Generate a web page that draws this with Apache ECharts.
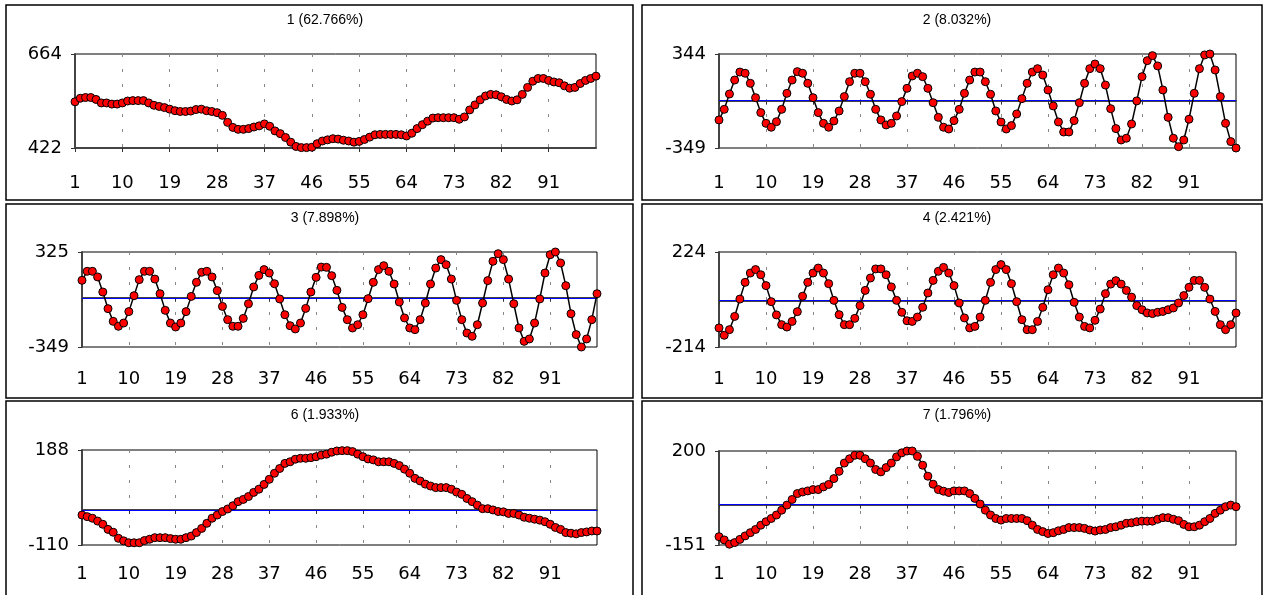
<!DOCTYPE html>
<html><head><meta charset="utf-8">
<script src="https://cdn.jsdelivr.net/npm/echarts@6/dist/echarts.min.js"></script>
<style>html,body{margin:0;padding:0;background:#fff}#c{width:1264px;height:595px}</style>
</head><body><div id="c"></div>
<script>
// x categories: observation index 1..100
const categories = Array.from({length: 100}, (_, i) => String(i + 1));
const titles = ['1 (62.766%)', '2 (8.032%)', '3 (7.898%)', '4 (2.421%)', '6 (1.933%)', '7 (1.796%)'];
const yMin = [422, -349, -349, -214, -110, -151];
const yMax = [664, 344, 325, 224, 188, 200];
const zeroLine = [false, true, true, true, true, true];

const comp1 = [541,550,552,552,547,538,538,535,535,538, 543,544,544,544,538,532,529,526,522,518,
  516,516,517,521,522,518,516,513,506,488, 475,470,470,472,476,479,484,478,466,459,
  449,437,426,423,423,424,433,440,443,446, 445,442,440,437,439,444,450,456,457,457,
  457,457,456,453,460,472,482,491,499,500, 500,500,500,496,502,520,533,546,556,560,
  559,554,547,543,546,560,578,594,601,601, 596,592,590,582,576,578,588,596,601,607];
const comp2 = [-142,-64,49,152,211,202,128,22,-88,-167, -196,-155,-64,54,152,214,202,128,22,-88,
  -167,-196,-150,-76,30,140,202,202,140,47, -64,-142,-179,-167,-113,-7,91,182,202,177,
  91,-15,-123,-196,-209,-147,-64,54,152,211, 211,140,47,-76,-157,-209,-184,-98,15,128,
  211,236,189,79,-39,-157,-231,-231,-147,-15, 128,236,270,236,115,-59,-206,-290,-277,-172,
  -2,177,295,332,256,79,-123,-277,-339,-290, -137,54,236,337,344,226,30,-167,-302,-349];
const comp3 = [124,188,188,148,41,-77,-167,-202,-179,-98, 15,129,188,188,133,29,-89,-179,-207,-179,
  -98,10,110,181,188,148,51,-61,-155,-202, -202,-146,-42,77,159,200,176,100,-8,-120,
  -198,-221,-179,-75,41,145,218,216,157,53, -68,-155,-214,-191,-120,-6,110,200,228,188,
  98,-30,-143,-214,-226,-155,-37,98,211,271, 235,133,-18,-155,-250,-273,-191,-37,122,259,
  313,271,133,-42,-214,-309,-292,-179,-8,176, 306,325,247,86,-113,-261,-349,-292,-155,29];
const comp4 = [-126,-160,-134,-73,7,84,127,143,119,69, -5,-66,-111,-122,-96,-51,20,84,127,150,
  127,78,1,-65,-111,-111,-82,-23,47,104, 146,146,119,63,1,-54,-93,-96,-76,-31,
  35,93,135,153,127,69,-11,-80,-126,-119, -76,1,84,143,166,143,78,-5,-88,-134,
  -134,-96,-31,50,119,150,127,73,-8,-76, -119,-126,-91,-39,32,76,92,76,47,16,
  -23,-42,-57,-60,-54,-50,-42,-34,-11,23, 61,93,93,61,7,-50,-111,-134,-111,-57];
const comp6 = [-16,-21,-26,-35,-45,-61,-70,-89,-97,-103, -103,-103,-96,-92,-87,-87,-87,-90,-92,-92,
  -87,-82,-71,-58,-42,-26,-16,-5,3,13, 26,33,42,55,65,80,96,115,130,146,
  151,159,162,162,164,167,172,175,181,185, 186,186,183,175,167,160,157,151,151,151,
  146,139,128,115,99,91,81,75,70,70, 70,65,56,49,36,26,15,4,4,0,
  -5,-6,-11,-11,-16,-23,-26,-29,-32,-37, -45,-55,-61,-71,-73,-75,-71,-69,-66,-66];
const comp7 = [-120,-132,-148,-142,-130,-117,-105,-93,-77,-64, -52,-39,-21,-2,19,41,47,51,56,56,
  66,75,97,124,155,171,184,184,171,155, 131,122,138,155,178,193,200,200,180,147,
  106,76,56,50,45,51,51,51,41,23, 2,-21,-39,-52,-58,-52,-52,-52,-52,-60,
  -77,-93,-101,-108,-105,-98,-93,-86,-86,-86, -89,-95,-99,-95,-93,-86,-83,-77,-70,-68,
  -64,-62,-62,-62,-55,-49,-49,-55,-60,-74, -83,-83,-77,-64,-52,-33,-21,-8,-2,-8];
const seriesData = [comp1, comp2, comp3, comp4, comp6, comp7];

// layout of the six panels (plot areas and frame boxes)
const panels = [
  {grid: {left: 75, top: 54, width: 521, height: 94},  box: [6, 5, 627, 195],    title: [320, 8], xMargin: 26},
  {grid: {left: 719, top: 54, width: 517, height: 94}, box: [642, 5, 620, 195],  title: [952, 8], xMargin: 26},
  {grid: {left: 82, top: 252, width: 515, height: 95}, box: [6, 204, 627, 194],  title: [320, 206], xMargin: 23},
  {grid: {left: 719, top: 252, width: 517, height: 95},box: [642, 204, 620, 194],title: [952, 206], xMargin: 23},
  {grid: {left: 82, top: 450, width: 515, height: 95}, box: [6, 401, 627, 200],  title: [320, 403], xMargin: 20},
  {grid: {left: 719, top: 451, width: 517, height: 94},box: [642, 401, 620, 200],title: [952, 403], xMargin: 20}
];

const tickShow = (idx) => idx % 9 === 0 && idx < 99;
const FONT = 'DejaVu Sans';

const option = {
  animation: false,
  backgroundColor: '#fff',
  title: panels.map((p, k) => ({
    text: titles[k], left: p.title[0], top: p.title[1], textAlign: 'center',
    textStyle: {fontFamily: 'Liberation Sans', fontSize: 14, fontWeight: 'normal', color: '#000'}
  })),
  graphic: panels.map(p => ({
    type: 'rect', silent: true, z: 0,
    shape: {x: p.box[0], y: p.box[1], width: p.box[2], height: p.box[3]},
    style: {fill: 'none', stroke: '#000', lineWidth: 1.5}
  })),
  grid: panels.map(p => Object.assign({show: true, borderColor: '#000', borderWidth: 1, backgroundColor: 'transparent'}, p.grid)),
  xAxis: panels.map((p, k) => ({
    type: 'category', gridIndex: k, data: categories, boundaryGap: false,
    axisLine: {show: true, lineStyle: {color: '#444', width: 2}},
    axisTick: {show: true, interval: tickShow, length: 4, lineStyle: {color: '#333'}},
    axisLabel: {interval: tickShow, margin: p.xMargin, color: '#000', fontFamily: FONT, fontSize: 18},
    splitLine: {show: true, interval: tickShow, lineStyle: {color: '#888', type: [3, 12], width: 1}}
  })),
  yAxis: panels.map((p, k) => ({
    type: 'value', gridIndex: k, min: yMin[k], max: yMax[k],
    axisLine: {show: true, lineStyle: {color: '#444', width: 2}},
    axisTick: {show: true, length: 4, customValues: [yMin[k], yMax[k]], lineStyle: {color: '#333'}},
    axisLabel: {customValues: [yMin[k], yMax[k]], margin: 13, color: '#000', fontFamily: FONT, fontSize: 18},
    splitLine: {show: false}
  })),
  series: seriesData.map((d, k) => ({
    type: 'line', xAxisIndex: k, yAxisIndex: k, data: d, z: 3,
    symbol: 'circle', symbolSize: 8, showSymbol: true, showAllSymbol: true,
    lineStyle: {color: '#000', width: 1.5},
    itemStyle: {color: '#ff0000', borderColor: '#000', borderWidth: 1},
    markLine: zeroLine[k] ? {
      silent: true, symbol: 'none', z: 1, animation: false,
      label: {show: false},
      lineStyle: {color: '#0000ff', width: 1, type: 'solid'},
      data: [{yAxis: 0}]
    } : undefined
  }))
};

const chart = echarts.init(document.getElementById('c'), null, {renderer: 'canvas'});
chart.setOption(option);
</script>
</body></html>
